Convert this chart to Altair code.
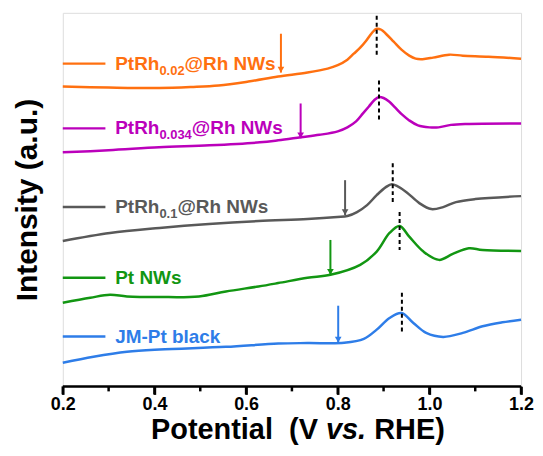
import altair as alt
import pandas as pd

FONT = "Liberation Sans"
W, H = 460, 375

series = ["PtRh0.02@Rh NWs", "PtRh0.034@Rh NWs", "PtRh0.1@Rh NWs", "Pt NWs", "JM-Pt black"]
colors = ["#FF7010", "#BB00BB", "#595959", "#129612", "#2E7DE8"]

# ---- curves (potential V, intensity a.u.) ----
orange_x = [0.2, 0.30, 0.41, 0.48, 0.54, 0.605, 0.67, 0.734, 0.778, 0.80, 0.821, 0.835, 0.849, 0.862, 0.875, 0.885, 0.895, 0.905, 0.922, 0.939, 0.956, 0.97, 0.985, 1.008, 1.043, 1.073, 1.129, 1.2]
orange_y = [301, 300, 299.5, 300.5, 302, 306, 311, 315, 319, 322.5, 328, 334, 340, 347, 355, 359, 358, 354, 346, 338, 332, 329, 328.5, 330, 333, 332, 331, 329]

magenta_x = [0.2, 0.30, 0.41, 0.52, 0.63, 0.67, 0.719, 0.76, 0.80, 0.821, 0.84, 0.855, 0.868, 0.88, 0.89, 0.90, 0.912, 0.925, 0.94, 0.956, 0.975, 1.0, 1.02, 1.047, 1.08, 1.2]
magenta_y = [235, 237, 240, 242, 245, 247, 250, 252.5, 256, 260, 266, 274, 281, 287.5, 290.5, 289.5, 286, 280, 273, 267, 262, 260, 260, 262.5, 263.5, 264]

gray_x = [0.2, 0.303, 0.411, 0.519, 0.627, 0.734, 0.799, 0.821, 0.842, 0.864, 0.885, 0.905, 0.918, 0.93, 0.95, 0.978, 1.004, 1.03, 1.058, 1.10, 1.2]
gray_y = [146, 154, 159, 163, 166, 168, 170, 171, 175, 182, 192, 200, 203, 201, 195, 184, 178, 180, 185, 188, 191]

green_x = [0.2, 0.26, 0.303, 0.34, 0.411, 0.497, 0.556, 0.627, 0.67, 0.734, 0.784, 0.849, 0.885, 0.913, 0.935, 0.956, 0.987, 1.021, 1.051, 1.086, 1.116, 1.2]
green_y = [84, 89, 92, 90.3, 89.7, 90.3, 95.3, 100.3, 103.7, 109, 112, 122, 135.3, 154, 161, 150.3, 135.3, 127, 133, 138.7, 137, 136]

blue_x = [0.2, 0.267, 0.34, 0.411, 0.556, 0.67, 0.734, 0.814, 0.857, 0.885, 0.913, 0.939, 0.965, 0.993, 1.03, 1.073, 1.116, 1.159, 1.2]
blue_y = [23.7, 29.7, 34.7, 37, 39.7, 43, 43.5, 43.7, 47.7, 57, 68.7, 73.7, 63.7, 53.7, 49.7, 53.7, 60.3, 64.3, 67]

curves_x = [orange_x, magenta_x, gray_x, green_x, blue_x]
curves_y = [orange_y, magenta_y, gray_y, green_y, blue_y]

# ---- annotations ----
arrow_x = [0.676, 0.719, 0.816, 0.784, 0.801]
arrow_top = [354, 284, 207, 147, 81]
arrow_tip = [315, 249, 172, 112, 44]

peak_x = [0.885, 0.890, 0.92, 0.935, 0.94]
peak_y1 = [372, 307, 224, 175, 94]
peak_y2 = [332, 267, 185, 137, 55]

legend_y = [324, 259, 180, 109, 50]
label_y = [318, 253.5, 174.5, 102.5, 43.5]
label_main = ["PtRh", "PtRh", "PtRh", "Pt NWs", "JM-Pt black"]
label_sub = ["0.02", "0.034", "0.1", "", ""]
label_rest = ["@Rh NWs", "@Rh NWs", "@Rh NWs", "", ""]
legend_x0, legend_x1, label_x = 0.2, 0.293, 0.3145

x_domain = [0.2, 1.2]
major_ticks = [0.2, 0.4, 0.6, 0.8, 1.0, 1.2]
minor_ticks = [0.3, 0.5, 0.7, 0.9, 1.1]

# Arial/Liberation Sans Bold advance widths (per 1000 em)
AW = {'P': 667, 't': 333, 'R': 722, 'h': 611, '0': 556, '1': 556, '2': 556, '3': 556, '4': 556,
      '.': 278, '@': 975, ' ': 278, 'N': 722, 'W': 944, 's': 556, 'J': 556, 'M': 833, '-': 333,
      'b': 611, 'l': 278, 'a': 556, 'c': 556, 'k': 556, 'o': 611, 'e': 556, 'n': 611, 'i': 278,
      '(': 333, ')': 333, 'V': 667, 'v': 556, 'H': 722, 'E': 667}


def tw(s, size):
    return sum(AW.get(c, 556) for c in s) * size / 1000.0


MAIN_FS, SUB_FS = 19, 13
px_per_v = W / 1.0

rows = []
for s, xs, ys in zip(series, curves_x, curves_y):
    for x, y in zip(xs, ys):
        rows.append({"series": s, "x": x, "y": y})
df_lines = pd.DataFrame(rows)

df_ann = pd.DataFrame({
    "series": series, "ax": arrow_x, "atop": arrow_top, "atip": arrow_tip,
    "px": peak_x, "py1": peak_y1, "py2": peak_y2,
    "lx0": [legend_x0] * 5, "lx1": [legend_x1] * 5, "ly": legend_y,
})

main_rows, sub_rows, rest_rows = [], [], []
for s, m, sb, r, ly in zip(series, label_main, label_sub, label_rest, label_y):
    main_rows.append({"series": s, "x": label_x, "y": ly, "t": m})
    xs = label_x + tw(m, MAIN_FS) / px_per_v
    if sb:
        sub_rows.append({"series": s, "x": xs, "y": ly - 5, "t": sb})
        xr = xs + tw(sb, SUB_FS) / px_per_v
        rest_rows.append({"series": s, "x": xr, "y": ly, "t": r})
df_main = pd.DataFrame(main_rows)
df_sub = pd.DataFrame(sub_rows)
df_rest = pd.DataFrame(rest_rows)

df_ticks = pd.DataFrame({
    "v": major_ticks + minor_ticks,
    "len": [8] * len(major_ticks) + [5] * len(minor_ticks),
})
df_base = pd.DataFrame({"x0": [x_domain[0]], "x1": [x_domain[1]], "y0": [0]})

xscale = alt.Scale(domain=x_domain, nice=False, zero=False)
yscale = alt.Scale(domain=[0, H], nice=False, zero=False)
cscale = alt.Scale(domain=series, range=colors)
col = alt.Color("series:N", scale=cscale, legend=None)

major_axis = alt.Axis(
    orient="bottom", values=major_ticks, title=None, grid=False, domain=False,
    ticks=True, tickColor="black", tickWidth=2.5, tickSize=8, format=".1f",
    labelFont=FONT, labelFontSize=18, labelFontWeight="bold", labelColor="black",
    labelPadding=1, labelFlush=False, labelOverlap=False,
)
yaxis = alt.Axis(
    title="Intensity (a.u.)", labels=False, ticks=False, domain=False, grid=False,
    titleFont=FONT, titleFontSize=30, titleFontWeight="bold", titleColor="black",
    titlePadding=20,
)

base_lines = alt.Chart(df_lines).mark_line(strokeWidth=2.5, interpolate="catmull-rom").encode(
    x=alt.X("x:Q", scale=xscale, axis=major_axis),
    y=alt.Y("y:Q", scale=yscale, axis=yaxis),
    color=col,
    detail="series:N",
)

# bottom frame line and tick marks (major 8 px, minor 5 px)
bottom = alt.Chart(df_base).mark_rule(strokeWidth=2.5, color="black").encode(
    x=alt.X("x0:Q", scale=xscale, axis=None), x2="x1:Q", y=alt.Y("y0:Q", scale=yscale))
ticks = alt.Chart(df_ticks).mark_rule(strokeWidth=2.5, color="black").transform_calculate(
    ytick=f"{H} + datum.len"
).encode(
    x=alt.X("v:Q", scale=xscale, axis=None),
    y=alt.Y("ytick:Q", scale=None),
    y2=alt.value(H),
)

ann = alt.Chart(df_ann)
dashes = ann.mark_rule(strokeWidth=2, strokeDash=[4, 3], color="black").encode(
    x=alt.X("px:Q", scale=xscale, axis=None), y=alt.Y("py1:Q", scale=yscale), y2="py2:Q")
arrows = ann.mark_rule(strokeWidth=2).encode(
    x=alt.X("ax:Q", scale=xscale, axis=None), y=alt.Y("atop:Q", scale=yscale), y2="atip:Q", color=col)
heads = ann.mark_point(shape="triangle-down", filled=True, size=45, opacity=1, yOffset=-3).encode(
    x=alt.X("ax:Q", scale=xscale, axis=None), y=alt.Y("atip:Q", scale=yscale), color=col)
leg = ann.mark_rule(strokeWidth=2.5).encode(
    x=alt.X("lx0:Q", scale=xscale, axis=None), x2="lx1:Q", y=alt.Y("ly:Q", scale=yscale), color=col)

tkw = dict(font=FONT, fontWeight="bold", align="left", baseline="alphabetic")
t_main = alt.Chart(df_main).mark_text(fontSize=MAIN_FS, **tkw).encode(
    x=alt.X("x:Q", scale=xscale, axis=None), y=alt.Y("y:Q", scale=yscale), text="t:N", color=col)
t_sub = alt.Chart(df_sub).mark_text(fontSize=SUB_FS, **tkw).encode(
    x=alt.X("x:Q", scale=xscale, axis=None), y=alt.Y("y:Q", scale=yscale), text="t:N", color=col)
t_rest = alt.Chart(df_rest).mark_text(fontSize=MAIN_FS, **tkw).encode(
    x=alt.X("x:Q", scale=xscale, axis=None), y=alt.Y("y:Q", scale=yscale), text="t:N", color=col)

# x-axis title with italic "vs."
TFS = 29
title_words = ["Potential", "(V", "vs.", "RHE)"]
title_italic = [False, False, True, False]
gaps = [2, 1, 1, 0]
total = sum(tw(w, TFS) + g * tw(" ", TFS) for w, g in zip(title_words, gaps))
cx = W / 2 + 6
pos = []
cur = cx - total / 2
for w, g in zip(title_words, gaps):
    pos.append(cur)
    cur += tw(w, TFS) + g * tw(" ", TFS)
df_title = pd.DataFrame({"t": title_words, "px": pos, "py": [H + 53] * 4, "it": title_italic})
t_norm = alt.Chart(df_title[~df_title.it]).mark_text(fontSize=TFS, color="black", **tkw).encode(
    x=alt.X("px:Q", scale=None, axis=None), y=alt.Y("py:Q", scale=None), text="t:N")
t_ital = alt.Chart(df_title[df_title.it]).mark_text(fontSize=TFS, color="black", fontStyle="italic", **tkw).encode(
    x=alt.X("px:Q", scale=None, axis=None), y=alt.Y("py:Q", scale=None), text="t:N")

chart = alt.layer(base_lines, bottom, ticks, dashes, arrows, heads, leg, t_main, t_sub, t_rest, t_norm, t_ital).resolve_axis(
    x="independent"
).properties(
    width=W, height=H,
    autosize=alt.AutoSizeParams(type="none"),
    padding={"left": 55, "top": 4, "right": 14, "bottom": 60},
).configure_view(stroke="black", strokeWidth=2.5).configure(background="white")

chart.save("out.html", embed_options={"renderer": "svg", "actions": False})
